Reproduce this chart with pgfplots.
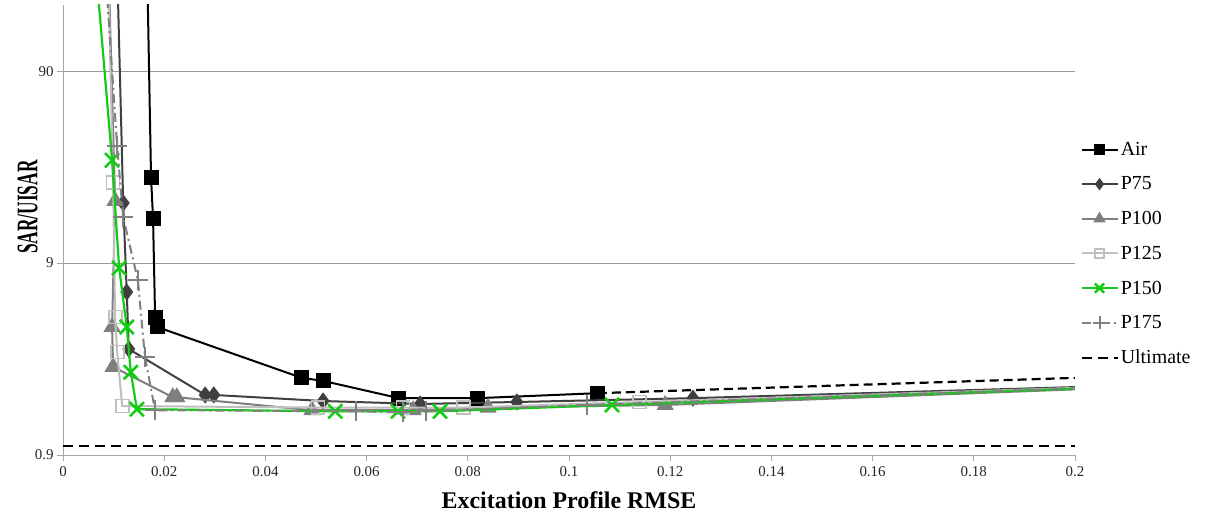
\documentclass[border=0pt]{standalone}
\usepackage{pgfplots}
\pgfplotsset{compat=1.18}
\usepackage{fontspec}
\setmainfont{Liberation Serif}
\definecolor{cP75}{HTML}{404040}
\definecolor{cP100}{HTML}{7F7F7F}
\definecolor{cP125}{HTML}{BFBFBF}
\definecolor{cP150}{HTML}{11CC11}
\definecolor{cP175}{HTML}{808080}
\begin{document}
\begin{tikzpicture}
\useasboundingbox (-63bp,-64bp) rectangle (1154bp,455bp);
\begin{axis}[
  at={(0,0)}, anchor=south west,
  scale only axis, width=1012bp, height=450bp,
  ymode=log, ymin=0.9, ymax=199,
  xmin=0, xmax=0.2,
  ytick={0.9,9,90}, yticklabels={0.9,9,90},
  yminorticks=false,
  xtick={0,0.02,0.04,0.06,0.08,0.1,0.12,0.14,0.16,0.18,0.2},
  xticklabels={0,0.02,0.04,0.06,0.08,0.1,0.12,0.14,0.16,0.18,0.2},
  axis x line*=bottom, axis y line*=left,
  axis line style={-, draw=black!35, line width=0.8bp},
  every outer x axis line/.append style={-},
  every outer y axis line/.append style={-},
  tick align=outside, major tick length=6bp,
  tick style={draw=black!35, line width=0.8bp},
  ymajorgrids, grid style={draw=black!40, line width=0.8bp},
  tick label style={font=\fontsize{15}{17}\selectfont, text=black!85},
  xticklabel style={yshift=-2bp},
  clip marker paths=true,
  xlabel={\fontsize{24}{28}\selectfont\bfseries Excitation Profile RMSE},
  xlabel style={at={(axis description cs:0.5,-0.1)}, anchor=center},
  ylabel={\scalebox{0.58}[1]{\fontsize{30}{34}\selectfont\bfseries SAR/UISAR}},
  ylabel style={at={(axis description cs:-0.035,0.551)}, anchor=center, rotate=0},
  legend style={at={(1.005,0.70)}, anchor=north west, draw=none, fill=none,
    font=\fontsize{20}{22}\selectfont, row sep=16bp, inner sep=0pt},
  legend cell align=left,
  legend image code/.code={\draw[mark repeat=2,mark phase=2,every mark/.append style={scale=0.65}] plot coordinates {(0bp,0bp) (18bp,0bp) (36bp,0bp)};},
]
% Air
\addplot[black, line width=2bp, mark=square*, mark size=6.5bp, mark options={solid, fill=black}] coordinates {
(0.0167,250) (0.0174,25.2) (0.0178,15.3) (0.0182,4.71) (0.0186,4.18) (0.0472,2.27) (0.0514,2.19) (0.0664,1.78) (0.0820,1.78) (0.1057,1.89)};
\addlegendentry{Air}
% P75
\addplot[cP75, line width=2bp, mark=diamond*, mark size=7bp, mark options={solid, fill=cP75}] coordinates {
(0.0108,250) (0.0119,18.5) (0.0126,6.36) (0.0130,3.21) (0.0281,1.85) (0.0298,1.85) (0.0514,1.72) (0.0706,1.66) (0.0897,1.70) (0.1245,1.78) (0.25,2.22)};
\addlegendentry{P75}
% P100
\addplot[cP100, line width=2bp, mark=triangle*, mark size=8bp, mark options={solid, fill=cP100}] coordinates {
(0.0091,250) (0.0103,19.0) (0.0097,4.18) (0.0099,2.59) (0.0217,1.80) (0.0225,1.80) (0.0492,1.54) (0.0692,1.54) (0.0840,1.59) (0.1190,1.64) (0.25,2.22)};
\addlegendentry{P100}
% P125
\addplot[cP125, line width=2bp, mark=square, mark size=6.5bp, mark options={solid, fill=white, line width=1.8bp}] coordinates {
(0.0090,250) (0.0099,23.7) (0.0103,4.71) (0.0107,3.10) (0.0117,1.62) (0.0504,1.59) (0.0672,1.59) (0.0791,1.59) (0.1140,1.70) (0.25,2.22)};
\addlegendentry{P125}
% P150
\addplot[cP150, line width=2.2bp, mark=x, mark size=10bp, mark options={solid, line width=2.5bp}] coordinates {
(0.0067,268) (0.0097,30.9) (0.0111,8.48) (0.0126,4.18) (0.0134,2.43) (0.0146,1.56) (0.0538,1.52) (0.0662,1.52) (0.0745,1.52) (0.1085,1.64) (0.25,2.22)};
\addlegendentry{P150}
% P175
\addplot[cP175, line width=2bp, dash pattern=on 9bp off 4bp on 2bp off 4bp, mark=+, mark size=10bp, mark options={solid, line width=2bp}] coordinates {
(0.0085,268) (0.0107,36.6) (0.0119,15.6) (0.0148,7.34) (0.0162,2.91) (0.0182,1.54) (0.0579,1.52) (0.0672,1.50) (0.0717,1.52) (0.1036,1.64) (0.25,2.22)};
\addlegendentry{P175}
% Ultimate
\addplot[black, line width=2.5bp, dash pattern=on 10bp off 6bp] coordinates {(0,1.0) (0.2,1.0)};
\addlegendentry{Ultimate}
\addplot[black, line width=2.2bp, dash pattern=on 9bp off 5bp, forget plot] coordinates {(0.1057,1.89) (0.2,2.27)};
\end{axis}
\end{tikzpicture}
\end{document}
